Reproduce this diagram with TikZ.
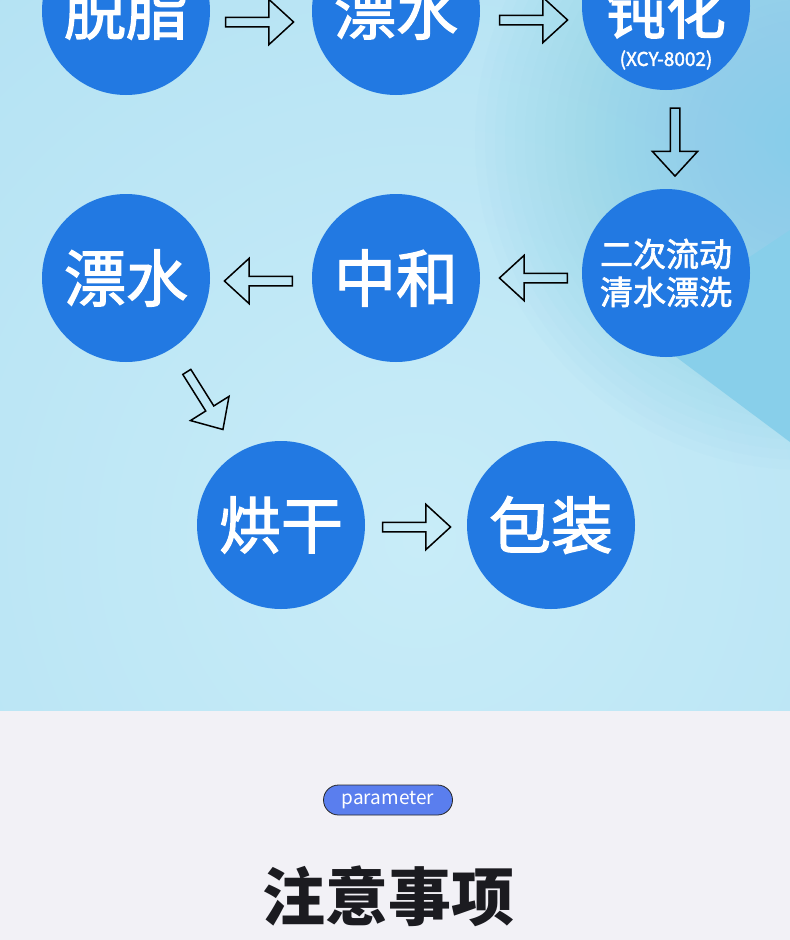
\documentclass[tikz,border=0pt]{standalone}
\usepackage{fontspec}
\setmainfont{Noto Sans CJK SC}
\newfontfamily\medfont[FakeBold=2]{Noto Sans CJK SC}
\usetikzlibrary{shapes.arrows}
\definecolor{cblue}{HTML}{2279E2}
\definecolor{bgin}{HTML}{C8ECF8}
\definecolor{bgout}{HTML}{A8DCF0}
\definecolor{bgdark}{HTML}{88CFEA}
\definecolor{bgcorner}{HTML}{84CDEA}
\definecolor{graybg}{HTML}{F2F1F6}
\definecolor{pillc}{HTML}{5A7EEE}
\definecolor{titlec}{HTML}{1B1B20}
\begin{document}
\begin{tikzpicture}[x=1pt,y=-1pt,
  stepcirc/.style={circle, fill=cblue, minimum size=168pt, inner sep=0pt, text=white,
    font=\medfont\fontsize{62}{62}\selectfont, align=center},
  flowarrow/.style={draw=black, line width=1.5pt, single arrow, minimum height=68pt,
    inner xsep=0pt, inner ysep=4pt, single arrow head extend=18pt,
    single arrow tip angle=85, sloped, allow upside down},
  ]
\useasboundingbox (0,0) rectangle (790,940);
% backgrounds
\fill[graybg] (0,710) rectangle (790,940);
\begin{scope}
  \clip (0,0) rectangle (790,710);
  \fill[bgout] (0,0) rectangle (790,710);
  \shade[inner color=bgin, outer color=bgout] (420,540) circle (1150);
  \foreach \r in {330,320,...,20}
    \fill[bgcorner, opacity=0.045] (805,140) circle (\r);
  \fill[bgdark] (790,442) -- (640,330) -- (790,230) -- cycle;
\end{scope}
% process circles
\node[stepcirc] (tz)  at (126,11)  {脱脂};
\node[stepcirc] (pw1) at (396,11)  {漂水};
\node[stepcirc] (dh)  at (666,6)   {};
\node[text=white, font=\medfont\fontsize{60}{60}\selectfont] (dhtext) at ([yshift=-5pt]dh.center) {钝化};
\node[text=white, font=\medfont\fontsize{19}{19}\selectfont] (dhcode) at ([yshift=-54pt]dh.center) {(XCY-8002)};
\node[stepcirc, font=\medfont\fontsize{33}{38}\selectfont] (ec) at (666,273) {二次流动\\清水漂洗};
\node[stepcirc] (zh)  at (396,278) {中和};
\node[stepcirc] (pw2) at (126,278) {漂水};
\node[stepcirc] (hg)  at (281,525) {烘干};
\node[stepcirc] (bz)  at (551,525) {包装};
% arrows
\path ([xshift=-4pt,yshift=-11pt]tz.east) -- node[flowarrow]{} ([xshift=-4pt,yshift=-11pt]pw1.west);
\path ([yshift=-9pt]pw1.east) -- node[flowarrow]{} ([yshift=-14pt]dh.west);
\path ([xshift=9pt]dh.south) -- node[flowarrow]{} ([xshift=9pt]ec.north);
\path ([xshift=5pt,yshift=-5pt]ec.west) -- node[flowarrow]{} ([xshift=5pt]zh.east);
\path ([yshift=-3pt]zh.west) -- node[flowarrow]{} ([yshift=-3pt]pw2.east);
\path ([yshift=3pt]pw2.center) -- node[flowarrow]{} ([yshift=3pt]hg.center);
\path ([xshift=-2pt,yshift=-2pt]hg.east) -- node[flowarrow]{} ([xshift=-2pt,yshift=-2pt]bz.west);
% bottom section
\node[draw=black!85, line width=0.8pt, fill=pillc, rounded corners=15pt,
  minimum width=129pt, minimum height=30pt, inner sep=0pt, text=white,
  font=\fontsize{19}{19}\selectfont] (pill) at (388,800) {parameter};
\node[text=titlec, font=\fontsize{63}{63}\selectfont\bfseries] (title) at (388,896) {注意事项};
\end{tikzpicture}
\end{document}
